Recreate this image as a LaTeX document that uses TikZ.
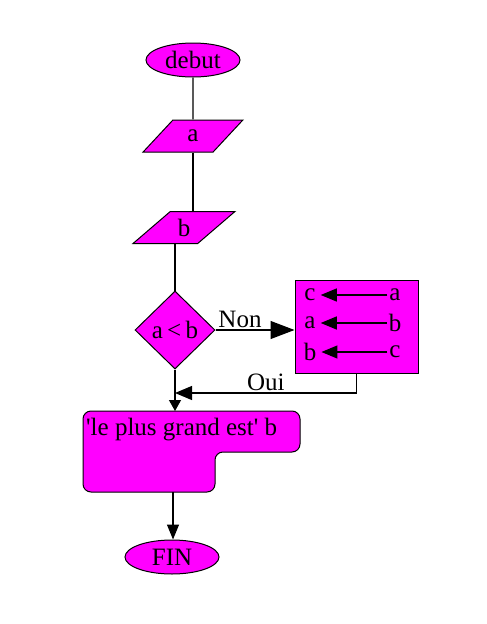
\documentclass[tikz,border=0pt]{standalone}
\usepackage{fontspec}
\setmainfont{Liberation Serif}
\usetikzlibrary{arrows.meta,shapes.geometric}
\definecolor{M}{RGB}{255,0,255}

\begin{document}
\begin{tikzpicture}[x=1pt,y=-1pt,
   box/.style={draw=black, fill=M, line width=1pt, inner sep=0pt, font=\fontsize{25}{30}\selectfont},
   term/.style={box, ellipse, minimum width=94pt, minimum height=34pt},
   io/.style={box, trapezium, trapezium stretches=true, minimum height=32pt},
   lien/.style={black, line width=1.2pt},
   lbl/.style={font=\fontsize{25}{30}\selectfont, inner sep=2pt}]
   \useasboundingbox (0,0) rectangle (487,624);
   \node[term] (debut) at (193,60) {debut};
   \node[io, trapezium left angle=55.5, trapezium right angle=124.5, minimum width=100pt] (a) at (193,136) {a};
   \node[io, trapezium left angle=46, trapezium right angle=134, minimum width=102pt] (b) at (184,227.5) {b};
   \node[box, diamond, minimum width=80pt, minimum height=78pt] (test) at (175,330) {a\,\textless\,b};
   \node[box, rectangle, minimum width=123pt, minimum height=93pt] (swap) at (356.5,326.5) {};
   \foreach \y/\g/\d [count=\i] in {295/c/a, 323/a/b, 352/b/c} {
      \node[lbl] (g\i) at (310,\y) {\g};
      \node[lbl] (d\i) at (395,\y) {\d};
      \draw[lien, -{Triangle[length=16pt,width=13pt]}, shorten >=3pt] (d\i.west) -- (g\i.east);
   }
   \draw[box, rounded corners=8pt] (83,411) -- (300,411) -- (300,452) -- (215,452) -- (215,492) -- (83,492) -- cycle;
   \node[lbl, anchor=west] (msg) at (84,430) {\textquotesingle le plus grand est\textquotesingle\ b};
   \coordinate (haut) at (175,411);
   \coordinate (bas) at (173,492);
   \coordinate (joint) at (175,393);
   \node[term] (fin) at (172,557) {FIN};

   \draw[lien] (debut.south) -- (a.north);
   \draw[lien] (a.south) -- (a.south |- b.north);
   \draw[lien] (test.north |- b.south) -- (test.north);
   \draw[lien, -{Triangle[length=24pt,width=18pt]}] (test.east) -- (test.east -| swap.west)
      node[lbl, pos=0.31, above] {Non};
   \draw[lien, -{Triangle[length=17pt,width=14pt]}] (swap.south) |- (joint)
      node[lbl, pos=0.75, above] {Oui};
   \draw[lien, -{Triangle[length=11pt,width=12pt]}] (test.south) -- (haut);
   \draw[lien, -{Triangle[length=15pt,width=12pt]}] (bas) -- (bas |- fin.north);
\end{tikzpicture}
\end{document}
